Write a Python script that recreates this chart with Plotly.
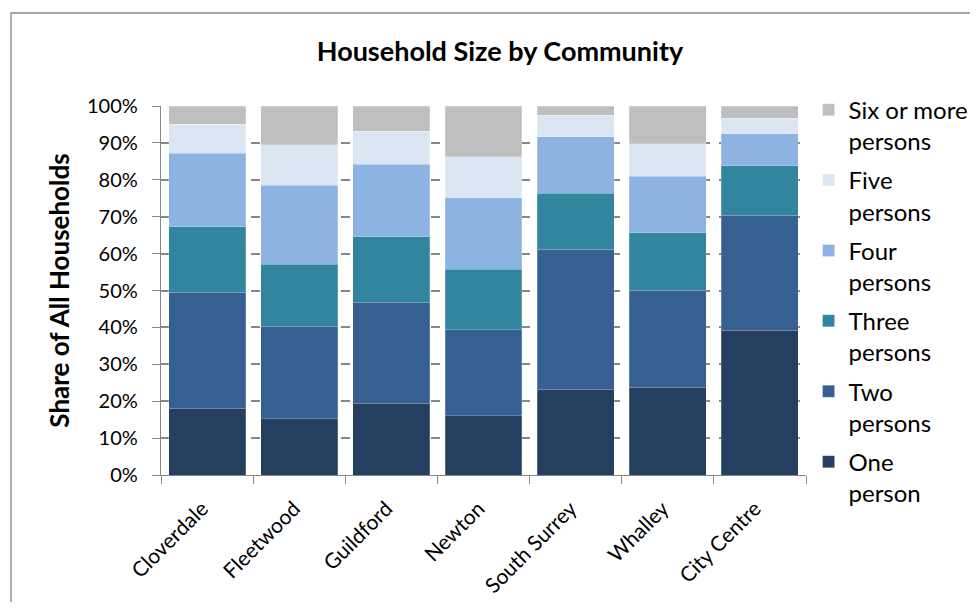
import plotly.graph_objects as go

communities = ["Cloverdale", "Fleetwood", "Guildford", "Newton", "South Surrey", "Whalley", "City Centre"]

one_person = [18.1, 15.2, 19.5, 16.0, 23.3, 23.8, 39.2]
two_persons = [31.4, 25.1, 27.3, 23.3, 37.9, 26.3, 31.2]
three_persons = [17.8, 16.8, 17.8, 16.4, 15.1, 15.6, 13.4]
four_persons = [19.9, 21.4, 19.6, 19.5, 15.4, 15.3, 8.7]
five_persons = [7.8, 11.0, 8.9, 11.0, 5.8, 8.8, 4.2]
six_plus = [5.0, 10.5, 6.9, 13.8, 2.5, 10.2, 3.3]

series_names = ["One<br>person", "Two<br>persons", "Three<br>persons",
                "Four<br>persons", "Five<br>persons", "Six or more<br>persons"]
series_values = [one_person, two_persons, three_persons, four_persons, five_persons, six_plus]
series_colors = ["#243F60", "#366092", "#31859C", "#8DB3E2", "#DCE6F2", "#BFBFBF"]

y_ticks = list(range(0, 101, 10))
y_tick_labels = [f"{v}%" for v in y_ticks]

FONT = "Lato, 'Open Sans', sans-serif"
AXIS_GRAY = "#868686"

# figure sits 8px inside the page (default body margin), sized so the page does not overflow
W, H = 962, 594
ML, MR, MT, MB = 153, 164, 98, 127
PW, PH = W - ML - MR, H - MT - MB

fig = go.Figure()
n = len(series_names)
for i, (name, vals, col) in enumerate(zip(series_names, series_values, series_colors)):
    fig.add_trace(go.Bar(
        x=communities, y=vals, name=name,
        marker=dict(color=col, line=dict(color="rgba(255,255,255,0.35)", width=0.6)),
        legendgroup=f"g{i}", legendrank=100 * (n - i),
    ))

fig.update_layout(
    barmode="stack",
    bargap=0.165,
    width=W, height=H,
    margin=dict(l=ML, r=MR, t=MT, b=MB, autoexpand=False),
    paper_bgcolor="white", plot_bgcolor="white",
    font=dict(family=FONT, color="#000000", size=20),
    title=dict(text="<b>Household Size by Community</b>", xref="container", x=492 / W,
               y=1 - 44 / H, yanchor="middle", xanchor="center",
               font=dict(family=FONT, size=27, color="#000000")),
    legend=dict(x=1.004, xanchor="left", y=1.05, yanchor="top",
                traceorder="grouped", tracegroupgap=5, valign="top",
                maxheight=560,
                font=dict(family=FONT, size=24, color="#000000"),
                bgcolor="rgba(0,0,0,0)"),
    showlegend=True,
    shapes=[dict(type="rect", xref="paper", yref="paper",
                 x0=(3 - ML) / PW, x1=2.0, y0=-1.0, y1=(PH + MT - 5) / PH,
                 line=dict(color=AXIS_GRAY, width=1.3), fillcolor="rgba(0,0,0,0)",
                 layer="below")],
)

fig.update_yaxes(
    range=[0, 100], tickvals=y_ticks, ticktext=y_tick_labels,
    showgrid=True, gridcolor=AXIS_GRAY, griddash="dash", gridwidth=1.5,
    showline=True, linecolor=AXIS_GRAY, linewidth=1.3,
    ticks="outside", ticklen=8, tickcolor=AXIS_GRAY, tickwidth=1.3,
    ticklabelstandoff=10,
    zeroline=False, automargin=False,
    tickfont=dict(family=FONT, size=20, color="#000000"),
    title=dict(text="<b>Share of All Households</b>", standoff=9,
               font=dict(family=FONT, size=26, color="#000000")),
)
fig.update_xaxes(
    showline=True, linecolor=AXIS_GRAY, linewidth=1.3,
    ticks="outside", ticklen=8, tickcolor=AXIS_GRAY, tickwidth=1.3,
    tickson="boundaries", tickangle=-45, ticklabelshift=-5, ticklabelstandoff=12,
    tickfont=dict(family=FONT, size=21, color="#000000"),
    showgrid=False, automargin=False,
)

fig.write_html("out.html")
